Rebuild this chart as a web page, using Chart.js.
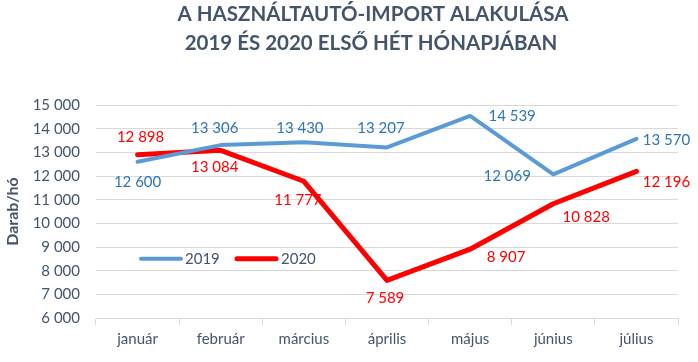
<!DOCTYPE html>
<html>
<head>
<meta charset="utf-8">
<script src="https://cdn.jsdelivr.net/npm/chart.js@4"></script>
<style>
  body { margin: 0; background: #fff; }
</style>
</head>
<body>
<canvas id="importChart" width="698" height="362"></canvas>
<script>
const months = ['január', 'február', 'március', 'április', 'május', 'június', 'július'];
const import2019 = [12600, 13306, 13430, 13207, 14539, 12069, 13570];
const import2020 = [12898, 13084, 11777, 7589, 8907, 10828, 12196];
const yTicks = [6000, 7000, 8000, 9000, 10000, 11000, 12000, 13000, 14000, 15000];

// where each value label sits relative to its point (px)
const labelShift2019 = [[0, 20], [-6, -17], [-4, -14], [-6, -19], [42, 0], [-46, 2], [30, 1]];
const labelShift2020 = [[3, -18], [-6, 17], [-6, 19], [-2, 18], [36, 8], [33, 13], [30, 11]];

const blue = '#5B9BD5';
const red = '#FF0000';
const textCol = '#44546A';
const gridCol = '#D9D9D9';
const font = 'Lato, "Open Sans", sans-serif';

function fmt(v) {
    return String(v).replace(/\B(?=(\d{3})+(?!\d))/g, ' ');
}

const extras = {
    id: 'extras',
    afterDatasetsDraw(chart) {
        const ctx = chart.ctx;
        ctx.save();
        ctx.font = '15px ' + font;
        ctx.textAlign = 'center';
        ctx.textBaseline = 'middle';
        const shifts = [labelShift2019, labelShift2020];
        chart.data.datasets.forEach((ds, i) => {
            const meta = chart.getDatasetMeta(i);
            ctx.fillStyle = i === 0 ? '#2E75B6' : red;
            meta.data.forEach((pt, j) => {
                const s = shifts[i][j];
                ctx.fillText(fmt(ds.data[j]), pt.x + s[0], pt.y + s[1]);
            });
        });

        // legend inside the plot
        const ly = chart.scales.y.getPixelForValue(8500);
        ctx.lineCap = 'round';
        ctx.lineWidth = 4;
        ctx.strokeStyle = blue;
        ctx.beginPath(); ctx.moveTo(141, ly); ctx.lineTo(181, ly); ctx.stroke();
        ctx.lineWidth = 5;
        ctx.strokeStyle = red;
        ctx.beginPath(); ctx.moveTo(237, ly); ctx.lineTo(276, ly); ctx.stroke();
        ctx.fillStyle = textCol;
        ctx.textAlign = 'left';
        ctx.fillText('2019', 185, ly);
        ctx.fillText('2020', 281, ly);

        // title
        ctx.font = 'bold 20.5px ' + font;
        ctx.textAlign = 'center';
        ctx.fillText('A HASZNÁLTAUTÓ-IMPORT ALAKULÁSA', 373, 14);
        ctx.fillText('2019 ÉS 2020 ELSŐ HÉT HÓNAPJÁBAN', 371, 43);
        ctx.restore();
    }
};

const ctx = document.getElementById('importChart').getContext('2d');
const myChart = new Chart(ctx, {
    type: 'line',
    data: {
        labels: months,
        datasets: [{
            label: '2019',
            data: import2019,
            borderColor: blue,
            backgroundColor: blue,
            borderWidth: 4,
            pointRadius: 0,
            borderJoinStyle: 'round',
            borderCapStyle: 'round',
            tension: 0
        }, {
            label: '2020',
            data: import2020,
            borderColor: red,
            backgroundColor: red,
            borderWidth: 5,
            pointRadius: 0,
            borderJoinStyle: 'round',
            borderCapStyle: 'round',
            tension: 0
        }]
    },
    options: {
        responsive: false,
        animation: false,
        layout: { padding: { top: 105, right: 20, left: 0, bottom: 0 } },
        plugins: {
            legend: { display: false },
            title: { display: false },
            tooltip: { enabled: false }
        },
        scales: {
            x: {
                offset: true,
                afterFit(scale) { scale.height = 44; },
                grid: {
                    offset: true,
                    drawOnChartArea: false,
                    drawTicks: true,
                    tickLength: 7,
                    color: gridCol
                },
                border: { color: gridCol },
                ticks: {
                    padding: 5,
                    color: textCol,
                    font: { family: font, size: 15 }
                }
            },
            y: {
                min: 6000,
                max: 15000,
                afterFit(scale) { scale.width = 96; },
                afterBuildTicks(scale) {
                    scale.ticks = yTicks.map(v => ({ value: v }));
                },
                grid: { color: gridCol, drawTicks: false },
                border: { display: false },
                ticks: {
                    padding: 16,
                    color: textCol,
                    font: { family: font, size: 15 },
                    callback: v => fmt(v)
                },
                title: {
                    display: true,
                    text: 'Darab/hó',
                    color: textCol,
                    font: { family: font, size: 16, weight: 'bold' },
                    padding: { top: 3, bottom: 0 }
                }
            }
        }
    },
    plugins: [extras]
});
</script>
</body>
</html>
